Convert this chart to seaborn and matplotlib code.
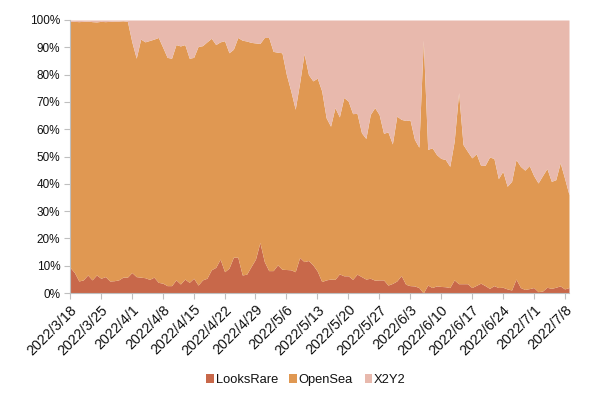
import numpy as np
import pandas as pd
import matplotlib
matplotlib.use("Agg")
import matplotlib.pyplot as plt
from matplotlib.patches import Patch
import seaborn as sns

# ---- data (daily market share, %) ----
start_date = "2022-03-18"
n_days = 114
series_names = ["LooksRare", "OpenSea", "X2Y2"]

looksrare = [9.4, 7.5, 4.4, 4.8, 6.6, 4.8, 6.6, 5.4, 6.0, 4.4,
             4.5, 4.8, 5.8, 5.8, 7.5, 6.0, 5.8, 5.6, 5.0, 5.8,
             3.9, 3.6, 2.7, 2.7, 4.8, 3.3, 5.1, 3.9, 5.4, 2.9,
             4.8, 5.4, 8.5, 9.4, 12.4, 7.8, 9.1, 13.1, 13.1, 6.6,
             6.9, 9.7, 12.4, 18.5, 11.5, 8.2, 8.2, 10.3, 8.7, 8.6,
             8.5, 7.8, 13.0, 11.5, 11.9, 10.3, 8.0, 4.2, 4.8, 5.1,
             5.0, 7.0, 6.3, 6.3, 5.0, 6.9, 6.0, 5.1, 5.4, 4.7,
             4.8, 4.8, 2.9, 3.5, 4.4, 6.4, 3.2, 2.7, 2.6, 2.0,
             0.0, 2.9, 2.0, 2.6, 2.4, 2.3, 2.0, 4.8, 3.4, 3.4,
             3.4, 2.0, 2.8, 3.6, 2.7, 1.7, 2.7, 2.0, 2.1, 1.5,
             1.1, 5.1, 2.0, 1.3, 1.6, 2.0, 0.5, 0.7, 2.1, 1.7,
             2.1, 2.6, 1.5, 2.0]

opensea = [90.1, 92.0, 95.0, 94.7, 93.0, 94.6, 92.7, 94.1, 93.4, 95.1,
           95.1, 94.8, 93.9, 93.7, 84.5, 80.0, 87.2, 86.4, 87.5, 87.2,
           89.7, 86.4, 83.6, 83.3, 86.2, 87.2, 85.9, 82.1, 80.9, 87.4,
           85.8, 86.6, 84.8, 81.6, 79.6, 84.6, 78.9, 76.2, 80.5, 86.0,
           85.4, 82.1, 79.2, 72.9, 82.1, 85.4, 80.3, 77.9, 79.3, 71.4,
           65.5, 59.5, 64.0, 76.2, 68.1, 67.4, 70.7, 69.8, 59.4, 56.0,
           62.9, 57.5, 65.3, 64.0, 60.7, 58.9, 52.7, 51.5, 60.0, 63.2,
           60.6, 53.7, 56.1, 51.1, 60.4, 57.2, 60.0, 60.7, 53.7, 51.4,
           92.6, 49.7, 51.2, 48.1, 46.9, 46.6, 44.4, 50.8, 70.0, 51.0,
           48.5, 47.5, 48.2, 43.1, 44.1, 48.1, 46.6, 39.9, 42.5, 37.6,
           39.8, 43.8, 44.4, 43.7, 45.1, 41.0, 39.8, 42.3, 43.5, 39.2,
           39.4, 45.1, 40.5, 34.0]

x2y2 = [0.5, 0.5, 0.6, 0.5, 0.4, 0.6, 0.7, 0.5, 0.6, 0.5,
        0.4, 0.4, 0.3, 0.5, 8.0, 14.0, 7.0, 8.0, 7.5, 7.0,
        6.4, 10.0, 13.7, 14.0, 9.0, 9.5, 9.0, 14.0, 13.7, 9.7,
        9.4, 8.0, 6.7, 9.0, 8.0, 7.6, 12.0, 10.7, 6.4, 7.4,
        7.7, 8.2, 8.4, 8.6, 6.4, 6.4, 11.5, 11.8, 12.0, 20.0,
        26.0, 32.7, 23.0, 12.3, 20.0, 22.3, 21.3, 26.0, 35.8, 38.9,
        32.1, 35.5, 28.4, 29.7, 34.3, 34.2, 41.3, 43.4, 34.6, 32.1,
        34.6, 41.5, 41.0, 45.4, 35.2, 36.4, 36.8, 36.6, 43.7, 46.6,
        7.4, 47.4, 46.8, 49.3, 50.7, 51.1, 53.6, 44.4, 26.6, 45.6,
        48.1, 50.5, 49.0, 53.3, 53.2, 50.2, 50.7, 58.1, 55.4, 60.9,
        59.1, 51.1, 53.6, 55.0, 53.3, 57.0, 59.7, 57.0, 54.4, 59.1,
        58.5, 52.3, 58.0, 64.0]

colors = ["#C8684A", "#E09852", "#E8B9AD"]

# ---- style ----
sns.set_theme(style="white")
plt.rcParams["font.family"] = ["Liberation Sans", "DejaVu Sans"]

dates = pd.date_range(start_date, periods=n_days, freq="D")
df = pd.DataFrame({"date": dates, "LooksRare": looksrare,
                   "OpenSea": opensea, "X2Y2": x2y2})
shares = df[series_names].to_numpy().T
shares = shares / shares.sum(axis=0) * 100.0

fig = plt.figure(figsize=(6.0, 3.99), dpi=100)
ax = fig.add_axes([70 / 600, 1 - 293 / 399, 499 / 600, 273 / 399])

pal = sns.color_palette(colors)
ax.stackplot(df["date"], shares, colors=pal, linewidth=0)

ax.set_xlim(dates[0], dates[-1])
ax.set_ylim(0, 100)
ax.set_yticks(np.arange(0, 101, 10))
ax.set_yticklabels([f"{v}%" for v in range(0, 101, 10)], fontsize=8.5, color="#111111")

tick_dates = dates[::7]
ax.set_xticks(tick_dates)
ax.set_xticklabels([f"{d.year}/{d.month}/{d.day}" for d in tick_dates],
                   rotation=45, ha="right", rotation_mode="anchor",
                   fontsize=10.3, color="#111111")

for side in ["top", "right"]:
    ax.spines[side].set_visible(False)
for side in ["left", "bottom"]:
    ax.spines[side].set_color("#BFBFBF")
    ax.spines[side].set_linewidth(0.8)
ax.tick_params(axis="both", which="both", direction="out", length=4,
               width=0.8, color="#BFBFBF", pad=3, left=True, bottom=True)
ax.grid(False)
ax.set_xlabel("")
ax.set_ylabel("")

handles = [Patch(facecolor=c, edgecolor="none", label=n) for c, n in zip(pal, series_names)]
fig.legend(handles=handles, loc="center", bbox_to_anchor=(0.51, 1 - 380 / 399),
           ncol=3, frameon=False, fontsize=9.3, handlelength=0.6, handleheight=0.6,
           handletextpad=0.12, columnspacing=0.9, labelcolor="#111111")

fig.savefig("out.png", dpi=100)
